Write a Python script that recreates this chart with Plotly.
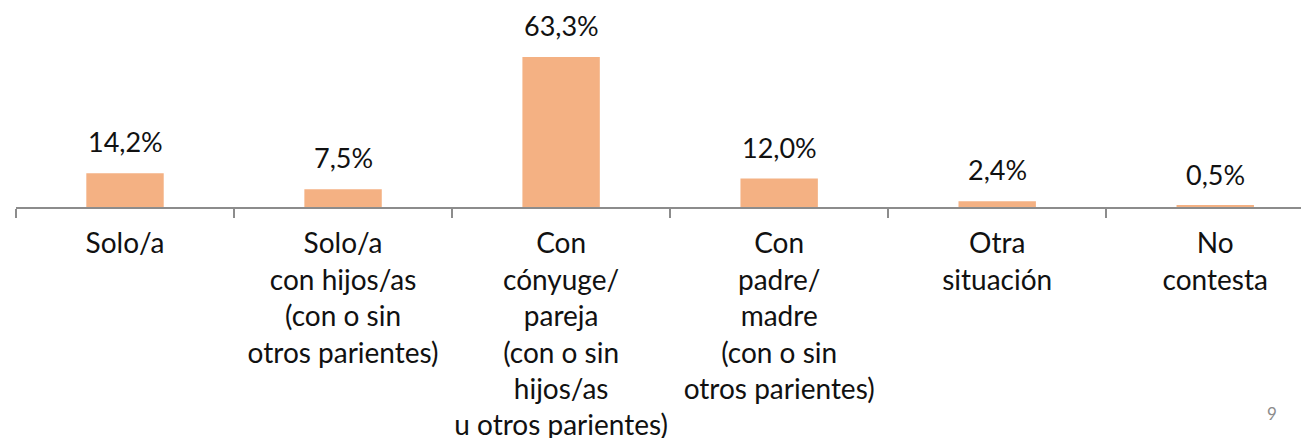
import plotly.graph_objects as go

categories = [
    "Solo/a",
    "Solo/a<br>con hijos/as<br>(con o sin<br>otros parientes)",
    "Con<br>cónyuge/<br>pareja<br>(con o sin<br>hijos/as<br>u otros parientes)",
    "Con<br>padre/<br>madre<br>(con o sin<br>otros parientes)",
    "Otra<br>situación",
    "No<br>contesta",
]
values = [14.2, 7.5, 63.3, 12.0, 2.4, 0.5]
value_labels = ["14,2%", "7,5%", "63,3%", "12,0%", "2,4%", "0,5%"]

FONT = "Lato, 'Open Sans', sans-serif"

fig = go.Figure(
    go.Bar(
        x=categories,
        y=values,
        marker=dict(color="#F4B183", line=dict(width=0)),
        width=0.355,
        hoverinfo="skip",
    )
)

for cat, val, lab in zip(categories, values, value_labels):
    fig.add_annotation(
        x=cat, y=val, text=lab, showarrow=False,
        yanchor="bottom", yshift=13,
        font=dict(family=FONT, size=27, color="#111111"),
    )

# page number
fig.add_annotation(
    x=0.977, y=-1.10, xref="paper", yref="paper", text="9", showarrow=False,
    font=dict(family=FONT, size=17, color="#8c8c8c"),
)

# the page body adds an 8px margin, so the figure is a bit smaller than the window
fig.update_layout(
    width=1301,
    height=430,
    margin=dict(l=8, r=0, t=0, b=231, autoexpand=False),
    plot_bgcolor="white",
    paper_bgcolor="white",
    showlegend=False,
    xaxis=dict(
        range=[-0.5, 5.43],
        automargin=False,
        showline=True,
        linecolor="#8c8c8c",
        linewidth=1.5,
        ticks="outside",
        tickson="boundaries",
        ticklen=9,
        tickcolor="#8c8c8c",
        tickwidth=1.5,
        showgrid=False,
        tickangle=0,
        tickfont=dict(family=FONT, size=28, color="#111111"),
        ticklabelstandoff=11,
    ),
    yaxis=dict(
        range=[0, 84.0],
        visible=False,
        showgrid=False,
        zeroline=False,
        automargin=False,
    ),
)

fig.write_html("out.html")
